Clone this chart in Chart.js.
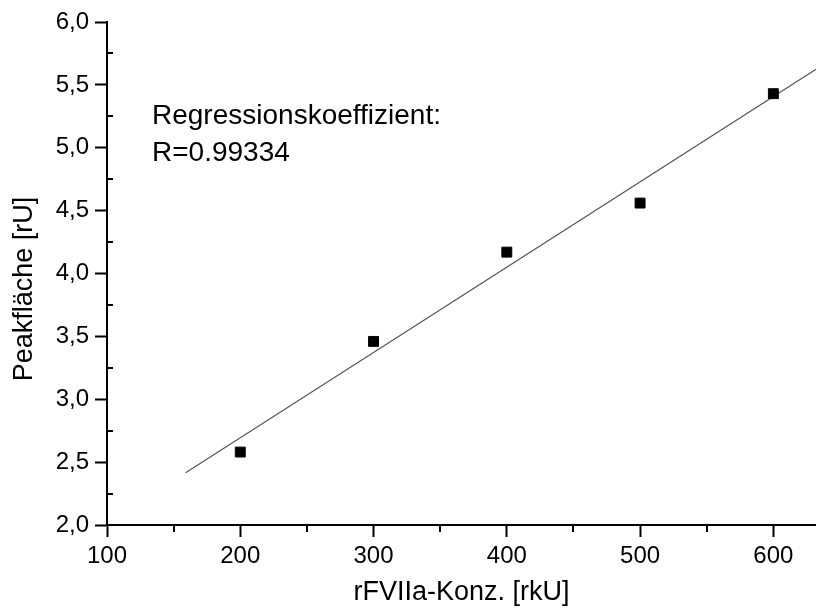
<!DOCTYPE html>
<html>
<head>
<meta charset="utf-8">
<script src="https://cdn.jsdelivr.net/npm/chart.js@4/dist/chart.umd.min.js"></script>
<style>
  html, body { margin: 0; padding: 0; background: #fff; }
  #wrap { width: 816px; height: 613px; }
</style>
</head>
<body>
<div id="wrap"><canvas id="chart" width="816" height="613"></canvas></div>
<script>
// measured points
const konz = [200, 300, 400, 500, 600];
const peak = [2.58, 3.46, 4.17, 4.56, 5.43];
// regression line ends
const fitX = [159, 632];
const fitY = [2.416, 5.624];
const xMinor = [150, 250, 350, 450, 550];
const yMinor = [2.25, 2.75, 3.25, 3.75, 4.25, 4.75, 5.25, 5.75];
const noteLines = ['Regressionskoeffizient:', 'R=0.99334'];
const yTitle = 'Peakfläche [rU]';

const FONT = '"Liberation Sans", Arial, sans-serif';

// short ticks between the labelled ones
const minorTicks = {
  id: 'minorTicks',
  afterDraw(chart) {
    const ctx = chart.ctx;
    const xs = chart.scales.x, ys = chart.scales.y;
    ctx.save();
    ctx.strokeStyle = '#000';
    ctx.lineWidth = 2;
    ctx.beginPath();
    xMinor.forEach(v => {
      const px = Math.round(xs.getPixelForValue(v));
      ctx.moveTo(px, ys.bottom);
      ctx.lineTo(px, ys.bottom + 7);
    });
    yMinor.forEach(v => {
      const py = Math.round(ys.getPixelForValue(v));
      ctx.moveTo(xs.left, py);
      ctx.lineTo(xs.left + 6, py);
    });
    ctx.stroke();
    ctx.restore();
  }
};

// annotation text + y title (placed a bit below the centre like the original)
const texts = {
  id: 'texts',
  afterDraw(chart) {
    const ctx = chart.ctx;
    ctx.save();
    ctx.fillStyle = '#000';
    ctx.font = '28px ' + FONT;
    ctx.textBaseline = 'alphabetic';
    ctx.textAlign = 'left';
    ctx.fillText(noteLines[0], 152, 124);
    ctx.fillText(noteLines[1], 152, 161);

    ctx.font = '27px ' + FONT;
    ctx.translate(25, 289);
    ctx.rotate(-Math.PI / 2);
    ctx.textAlign = 'center';
    ctx.textBaseline = 'middle';
    ctx.fillText(yTitle, 0, 0);
    ctx.restore();
  }
};

new Chart(document.getElementById('chart'), {
  type: 'scatter',
  data: {
    datasets: [
      {
        label: 'Messwerte',
        data: konz.map((x, i) => ({ x: x, y: peak[i] })),
        pointStyle: 'rect',
        pointRadius: 7,
        backgroundColor: '#000',
        borderColor: '#000',
        borderWidth: 1
      },
      {
        label: 'Regression',
        type: 'line',
        data: fitX.map((x, i) => ({ x: x, y: fitY[i] })),
        borderColor: '#555',
        borderWidth: 1.2,
        pointRadius: 0,
        fill: false
      }
    ]
  },
  options: {
    responsive: false,
    animation: false,
    layout: { autoPadding: false, padding: { top: 22, right: 0, left: 0, bottom: 0 } },
    plugins: {
      legend: { display: false },
      tooltip: { enabled: false }
    },
    scales: {
      x: {
        type: 'linear',
        min: 100,
        max: 632,
        afterFit(s) { s.height = 88; },
        ticks: {
          stepSize: 100,
          includeBounds: false,
          color: '#000',
          padding: 5,
          font: { family: FONT, size: 24 }
        },
        grid: { drawOnChartArea: false, drawTicks: true, tickLength: 12, tickWidth: 2, tickColor: '#000' },
        border: { display: true, color: '#000', width: 2 },
        title: {
          display: true,
          text: 'rFVIIa-Konz. [rkU]',
          color: '#000',
          font: { family: FONT, size: 27 },
          padding: { top: 10 }
        }
      },
      y: {
        min: 2,
        max: 6,
        afterFit(s) { s.width = 107; },
        ticks: {
          stepSize: 0.5,
          color: '#000',
          padding: 6,
          font: { family: FONT, size: 24 },
          callback: v => v.toFixed(1).replace('.', ',')
        },
        grid: { drawOnChartArea: false, drawTicks: true, tickLength: 12, tickWidth: 2, tickColor: '#000' },
        border: { display: true, color: '#000', width: 2 },
        title: { display: false }
      }
    }
  },
  plugins: [minorTicks, texts]
});
</script>
</body>
</html>
